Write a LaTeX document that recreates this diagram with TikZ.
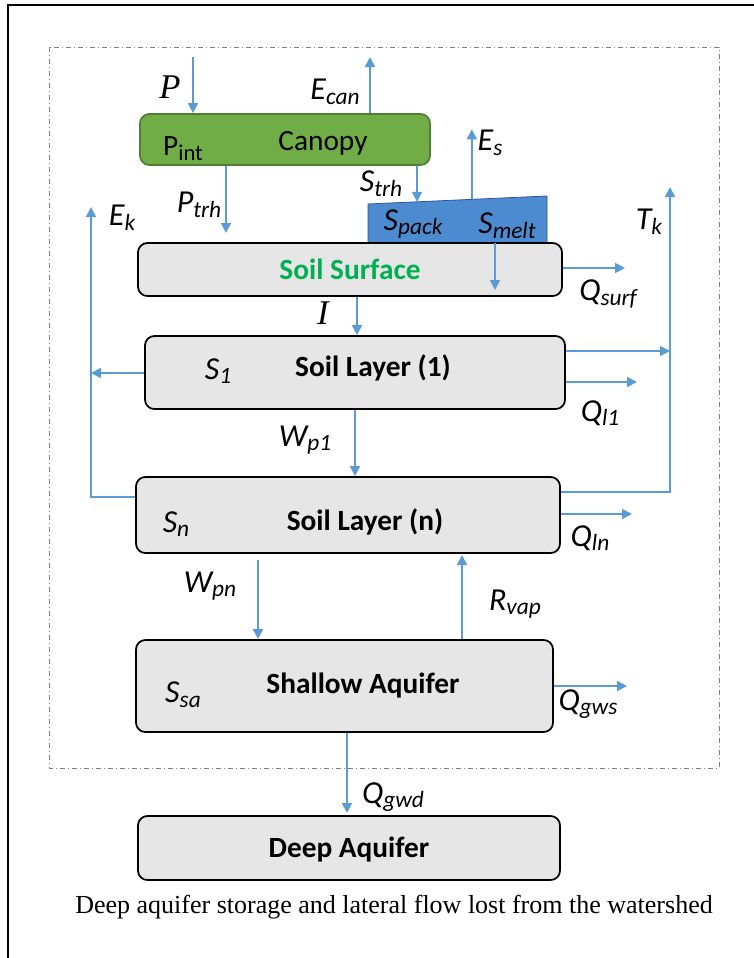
\documentclass[tikz,border=0pt]{standalone}
\usepackage{fontspec}
\setmainfont{Carlito}
\newfontfamily\timesfont{Liberation Serif}
\usetikzlibrary{arrows.meta}
\usetikzlibrary{calc}
\usetikzlibrary{fit}

\definecolor{flowblue}{HTML}{5B9BD5}
\definecolor{canopygreen}{HTML}{70AD47}
\definecolor{canopyedge}{HTML}{507E32}
\definecolor{snowblue}{HTML}{4D8BD0}
\definecolor{snowedge}{HTML}{2F5597}
\definecolor{soilgray}{HTML}{E6E6E6}
\definecolor{layergray}{HTML}{E7E6E6}
\definecolor{surfgreen}{HTML}{00B050}

\newcommand{\flx}[2]{\textit{#1\raisebox{-0.3ex}{\fontsize{17.5}{17.5}\selectfont #2}}}

\begin{document}
\begin{tikzpicture}[x=0.75pt,y=-0.75pt,
  flow/.style={draw=flowblue, line width=1.4pt, -{Triangle[length=7.5pt,width=7.5pt]}},
  layer/.style={draw, line width=1.3pt, rounded corners=7pt, inner sep=0pt, fill=soilgray},
  title/.style={font=\fontsize{22}{26}\selectfont\bfseries},
  lab/.style={font=\fontsize{24}{28}\selectfont}]
  \useasboundingbox (0,0) rectangle (754,958);

  \draw [line width=1.5pt] (8,958) -- (8,5) -- (754,5);
  \draw [gray, line width=0.7pt, dash pattern=on 4pt off 2pt on 1pt off 2pt] (49,47) rectangle (719,768);

  \node [layer, fill=canopygreen, draw=canopyedge, fit={(140,114) (430,165)}] (canopy) {};
  \coordinate (snowBL) at (368,243);
  \coordinate (snowTL) at (368,204);
  \coordinate (snowTR) at (547,196);
  \coordinate (snowBR) at (547,243);
  \draw [fill=snowblue, draw=snowedge, line width=0.6pt] (snowBL) -- (snowTL) -- (snowTR) -- (snowBR) -- cycle;

  \node [layer, fit={(138,243) (562,296)}] (surface) {};
  \node [layer, fill=layergray, fit={(145,336) (565,409)}] (layer1) {};
  \node [layer, fit={(136,477) (560,553)}] (layern) {};
  \node [layer, fit={(136,640) (553,732)}] (shallow) {};
  \node [layer, fit={(138,816) (560,880)}] (deep) {};

  \node [lab, font=\fontsize{22}{26}\selectfont] (canopytxt) at (323,143) {Canopy};
  \node [lab, font=\fontsize{22}{26}\selectfont] (pint) at (183,149) {P\raisebox{-0.35ex}{\fontsize{17}{17}\selectfont int}};
  \node [title, text=surfgreen] (surfacetxt) at (surface.center) {Soil Surface};
  \node [title] (layer1txt) at (373,368) {Soil Layer (1)};
  \node [title] (layerntxt) at (365,522) {Soil Layer (n)};
  \node [title] (shallowtxt) at (363,686) {Shallow Aquifer};
  \node [title] (deeptxt) at (349,850) {Deep Aquifer};

  \coordinate (P) at (193,57);
  \coordinate (Ecan) at (370,57);
  \coordinate (Strh) at ($ (snowTL)!0.274!(snowTR) $);
  \coordinate (Es) at ($ (snowTL)!0.58!(snowTR) $);
  \coordinate (Ptrh) at (226,233);
  \coordinate (melt) at (495,290);
  \coordinate (Ek) at (91,207);
  \coordinate (Tk) at (670,187);

  \draw [flow] (P) -- (P |- canopy.north);
  \draw [flow] (Ecan |- canopy.north) -- (Ecan);
  \draw [flow] (Strh |- canopy.south) -- (Strh);
  \draw [flow] (Es) -- ($ (Es) + (0,-70) $);
  \draw [flow] (Ptrh |- canopy.south) -- (Ptrh);
  \draw [flow] (melt |- snowBL) -- (melt);
  \draw [flow] (surface.east |- 0,268) -- (625,268);
  \draw [flow] (surface.south -| 357,0) -- (layer1.north -| 357,0);
  \draw [flow] (layer1.east |- 0,351) -- (Tk |- 0,351);
  \draw [flow] (layer1.east |- 0,382) -- (637,382);
  \draw [flow] (layer1.west |- 0,373) -- (Ek |- 0,373);
  \draw [flow] (layer1.south -| 355,0) -- (layern.north -| 355,0);
  \draw [flow] (layern.west |- 0,497) -- (Ek |- 0,497) -- (Ek);
  \draw [flow] (layern.east |- 0,492) -- (Tk |- 0,492) -- (Tk);
  \draw [flow] (layern.east |- 0,514) -- (632,514);
  \draw [flow] (258,560) -- (shallow.north -| 258,0);
  \draw [flow] (shallow.north -| 462,0) -- (462,555);
  \draw [flow] (shallow.east |- 0,686) -- (627,686);
  \draw [flow] (shallow.south -| 347,0) -- (347,813);

  \node [font=\timesfont\itshape\fontsize{26}{30}\selectfont] (Plab) at (170,87) {P};
  \node [font=\timesfont\itshape\fontsize{26}{30}\selectfont] (Ilab) at (323,313) {I};
  \node [lab] (Ecanlab) at (335,92) {\flx{E}{can}};
  \node [lab] (Eslab) at (490,143) {\flx{E}{s}};
  \node [lab] (Strhlab) at (381,184) {\flx{S}{trh}};
  \node [lab] (Ptrhlab) at (199,205) {\flx{P}{trh}};
  \node [lab] (Eklab) at (122,218) {\flx{E}{k}};
  \node [lab] (Spacklab) at (413,224) {\flx{S}{pack}};
  \node [lab] (Smeltlab) at (507,226) {\flx{S}{melt}};
  \node [lab] (Tklab) at (649,222) {\flx{T}{k}};
  \node [lab] (Qsurflab) at (608,294) {\flx{Q}{surf}};
  \node [lab] (S1lab) at (218,371) {\flx{S}{1}};
  \node [lab] (Ql1lab) at (600,413) {\flx{Q}{l1}};
  \node [lab] (Wp1lab) at (305,440) {\flx{W}{p1}};
  \node [lab] (Snlab) at (176,524) {\flx{S}{n}};
  \node [lab] (Qlnlab) at (590,538) {\flx{Q}{ln}};
  \node [lab] (Wpnlab) at (210,586) {\flx{W}{pn}};
  \node [lab] (Rvaplab) at (515,604) {\flx{R}{vap}};
  \node [lab] (Ssalab) at (183,695) {\flx{S}{sa}};
  \node [lab] (Qgwslab) at (588,704) {\flx{Q}{gws}};
  \node [lab] (Qgwdlab) at (393,797) {\flx{Q}{gwd}};

  \node [font=\timesfont\fontsize{19.5}{23}\selectfont] (caption) at (394,907)
    {Deep aquifer storage and lateral flow lost from the watershed};
\end{tikzpicture}
\end{document}
